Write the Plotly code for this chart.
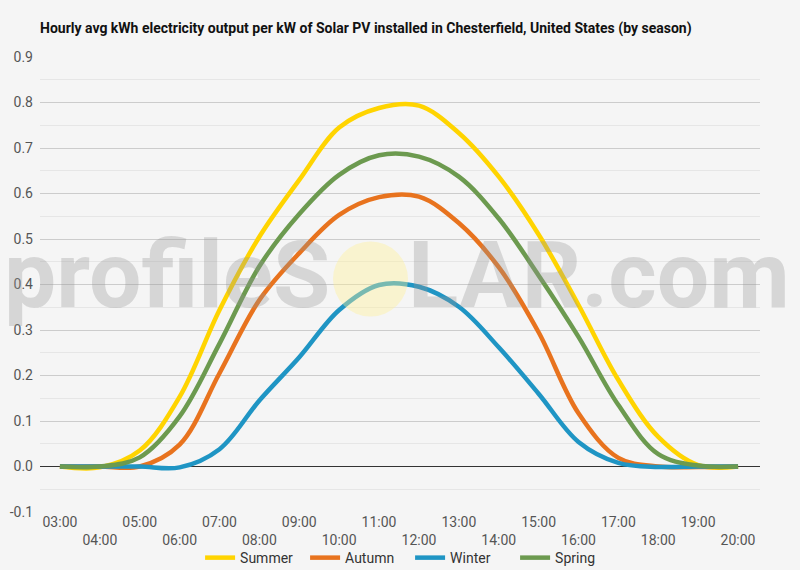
import plotly.graph_objects as go

# ------- Data -------
hours = list(range(3, 21))
hour_labels = [f"{h:02d}:00" for h in hours]

summer = [0.0, -0.002, 0.035, 0.153, 0.344, 0.505, 0.63, 0.745, 0.788, 0.793,
          0.733, 0.637, 0.51, 0.355, 0.19, 0.065, 0.003, 0.0]
autumn = [0.0, 0.0, 0.0, 0.048, 0.205, 0.366, 0.469, 0.553, 0.592, 0.593,
          0.535, 0.438, 0.295, 0.117, 0.019, 0.0, -0.001, 0.0]
winter = [0.0, 0.0, 0.0, -0.002, 0.038, 0.145, 0.24, 0.344, 0.399, 0.395,
          0.351, 0.262, 0.16, 0.054, 0.008, -0.001, 0.0, 0.0]
spring = [0.0, 0.0, 0.02, 0.11, 0.27, 0.44, 0.555, 0.641, 0.684, 0.681,
          0.637, 0.545, 0.42, 0.285, 0.135, 0.027, 0.002, 0.0]

y_ticks = [-0.1, 0.0, 0.1, 0.2, 0.3, 0.4, 0.5, 0.6, 0.7, 0.8, 0.9]
y_labels = ["-0.1", "0.0", "0.1", "0.2", "0.3", "0.4", "0.5", "0.6", "0.7", "0.8", "0.9"]

series = [("Summer", summer, "#FFD400"),
          ("Autumn", autumn, "#E8731E"),
          ("Winter", winter, "#1F95C4"),
          ("Spring", spring, "#6C9A4F")]

# staggered hour labels: even hours drop to a second row
x_ticktext = [lab if h % 2 == 1 else "<br>" + lab for h, lab in zip(hours, hour_labels)]

fig = go.Figure()
for name, vals, col in series:
    fig.add_trace(go.Scatter(x=hours, y=vals, name=name, mode="lines",
                             line=dict(color=col, width=4.5, shape="spline", smoothing=1.0)))

bg = "#f5f5f5"
fig.update_layout(
    width=800, height=570,
    paper_bgcolor=bg, plot_bgcolor=bg,
    margin=dict(l=40, r=40, t=57, b=58, autoexpand=False),
    font=dict(family="Roboto", color="#444"),
    title=dict(text="<b>Hourly avg kWh electricity output per kW of Solar PV installed in Chesterfield, United States (by season)</b>",
               font=dict(size=14, color="#111", family="Roboto"),
               xref="paper", x=0, xanchor="left", y=0.951, yanchor="middle"),
    legend=dict(orientation="h", x=0.514, xanchor="center", yref="container", y=0.021, yanchor="middle",
                font=dict(size=14, color="#333"), bgcolor="rgba(0,0,0,0)", entrywidth=60),
    showlegend=True,
)

fig.update_xaxes(range=[2.5, 20.55], tickvals=hours, ticktext=x_ticktext, automargin=False,
                 showgrid=False, zeroline=False, showline=False,
                 tickfont=dict(size=14, color="#555"), fixedrange=True)

fig.update_yaxes(range=[-0.1, 0.9], tickvals=y_ticks, ticktext=y_labels, automargin=False,
                 showgrid=True, gridcolor="#cccccc", gridwidth=1,
                 minor=dict(dtick=0.05, showgrid=True, gridcolor="#e6e6e6", gridwidth=1),
                 zeroline=True, zerolinecolor="#333333", zerolinewidth=1,
                 ticklabelstandoff=6,
                 tickfont=dict(size=14, color="#555"), fixedrange=True)

# watermark: "profileS" + sun circle + "LAR.com"
wm_font = dict(family="Roboto", size=93, color="rgba(150,150,150,0.32)", weight="bold")
fig.add_annotation(text="profileS", xref="paper", yref="paper", x=0.4056, y=0.52,
                   xanchor="right", yanchor="middle", showarrow=False, font=wm_font)
fig.add_annotation(text="LAR.com", xref="paper", yref="paper", x=0.508, y=0.52,
                   xanchor="left", yanchor="middle", showarrow=False, font=wm_font)
fig.add_shape(type="circle", xref="paper", yref="paper",
              x0=(333 - 40) / 720, x1=(408 - 40) / 720,
              y0=(512 - 316.5) / 455, y1=(512 - 241.5) / 455,
              fillcolor="rgba(255,240,150,0.4)", line=dict(width=0), layer="above")

fig.write_html("out.html", config={"displayModeBar": False},
               post_script="document.body.style.margin='0';")
